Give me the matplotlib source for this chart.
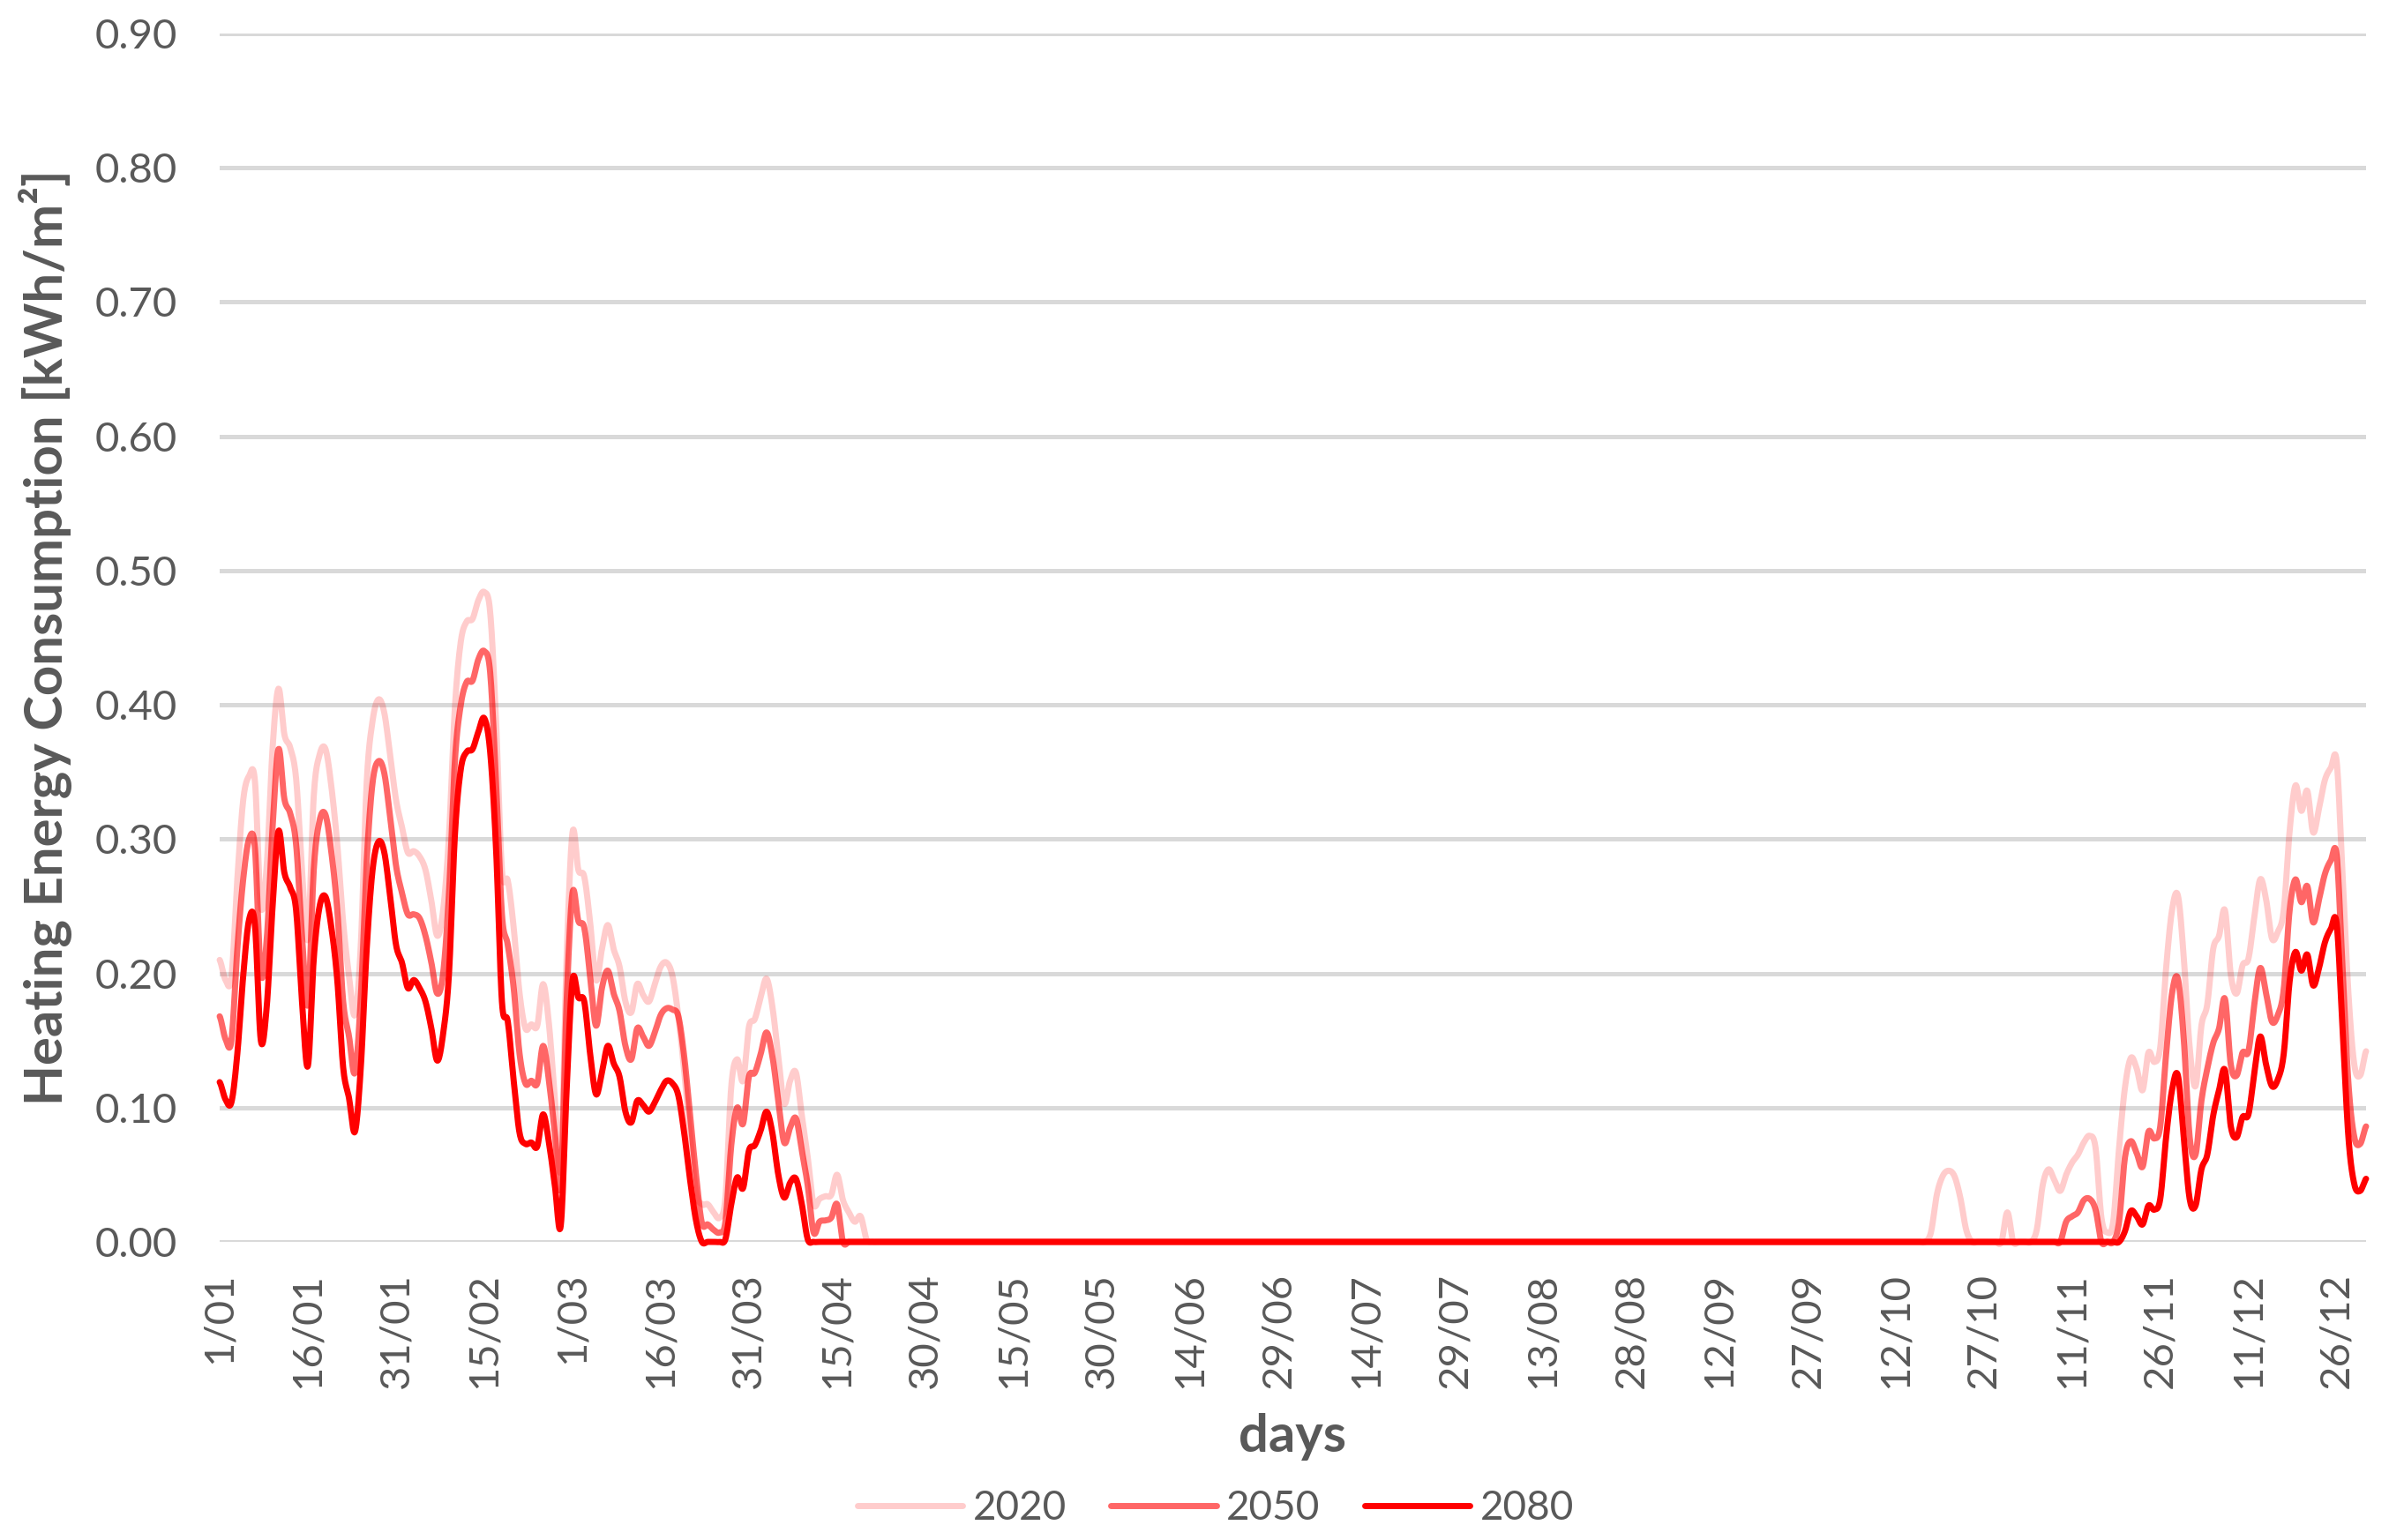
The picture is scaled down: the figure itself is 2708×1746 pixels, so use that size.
import numpy as np
import pandas as pd
import matplotlib
matplotlib.use('Agg')
import matplotlib.pyplot as plt

# daily heating energy consumption [kWh/m2] for three climate years
# calendar is a leap year (366 days); outside the two segments the values are 0
days = pd.date_range('2020-01-01', '2020-12-31', freq='D')
series_names = ['2020', '2050', '2080']

# 1/01 - 21/04
spring_start = '2020-01-01'
spring_2020 = [0.210, 0.195, 0.197, 0.270, 0.329, 0.347, 0.343, 0.250, 0.280, 0.368,
               0.412, 0.378, 0.368, 0.345, 0.277, 0.226, 0.332, 0.363, 0.367, 0.339,
               0.296, 0.238, 0.198, 0.169, 0.221, 0.342, 0.388, 0.404, 0.394, 0.362,
               0.329, 0.309, 0.290, 0.291, 0.287, 0.277, 0.254, 0.228, 0.247, 0.303,
               0.398, 0.447, 0.462, 0.464, 0.478, 0.484, 0.469, 0.388, 0.277, 0.269,
               0.234, 0.185, 0.159, 0.162, 0.161, 0.192, 0.162, 0.107, 0.055, 0.211,
               0.305, 0.277, 0.272, 0.238, 0.195, 0.218, 0.236, 0.218, 0.205, 0.179,
               0.171, 0.192, 0.184, 0.179, 0.192, 0.205, 0.208, 0.198, 0.168, 0.127,
               0.079, 0.037, 0.028, 0.028, 0.022, 0.018, 0.033, 0.116, 0.136, 0.120,
               0.160, 0.166, 0.182, 0.196, 0.175, 0.138, 0.103, 0.120, 0.126, 0.094,
               0.063, 0.028, 0.032, 0.034, 0.035, 0.050, 0.031, 0.022, 0.015, 0.019,
               0.002, 0.000]
spring_2050 = [0.168, 0.151, 0.150, 0.218, 0.270, 0.300, 0.293, 0.200, 0.225, 0.309,
               0.367, 0.330, 0.319, 0.296, 0.228, 0.177, 0.277, 0.314, 0.318, 0.290,
               0.247, 0.179, 0.153, 0.126, 0.182, 0.283, 0.342, 0.358, 0.349, 0.316,
               0.280, 0.260, 0.244, 0.244, 0.241, 0.228, 0.208, 0.185, 0.200, 0.260,
               0.358, 0.400, 0.417, 0.418, 0.434, 0.440, 0.424, 0.342, 0.244, 0.221,
               0.189, 0.140, 0.118, 0.120, 0.118, 0.146, 0.120, 0.081, 0.042, 0.179,
               0.260, 0.239, 0.234, 0.198, 0.161, 0.189, 0.202, 0.185, 0.172, 0.146,
               0.136, 0.159, 0.153, 0.146, 0.156, 0.169, 0.174, 0.173, 0.168, 0.138,
               0.094, 0.050, 0.014, 0.013, 0.009, 0.007, 0.015, 0.072, 0.100, 0.088,
               0.123, 0.126, 0.140, 0.156, 0.138, 0.105, 0.074, 0.085, 0.092, 0.068,
               0.042, 0.007, 0.015, 0.016, 0.018, 0.028, 0.000, 0.000, 0.000, 0.000,
               0.000, 0.000]
spring_2080 = [0.119, 0.106, 0.104, 0.140, 0.198, 0.240, 0.236, 0.150, 0.175, 0.250,
               0.306, 0.275, 0.264, 0.247, 0.179, 0.131, 0.211, 0.250, 0.257, 0.234,
               0.195, 0.130, 0.107, 0.082, 0.130, 0.218, 0.277, 0.298, 0.290, 0.257,
               0.221, 0.208, 0.189, 0.195, 0.189, 0.179, 0.159, 0.135, 0.155, 0.200,
               0.303, 0.352, 0.365, 0.367, 0.380, 0.390, 0.365, 0.293, 0.179, 0.164,
               0.120, 0.081, 0.073, 0.074, 0.071, 0.095, 0.074, 0.042, 0.012, 0.113,
               0.195, 0.182, 0.179, 0.140, 0.110, 0.126, 0.146, 0.133, 0.123, 0.097,
               0.089, 0.105, 0.102, 0.097, 0.104, 0.113, 0.120, 0.118, 0.109, 0.081,
               0.046, 0.016, 0.000, 0.000, 0.000, 0.000, 0.002, 0.028, 0.048, 0.040,
               0.068, 0.072, 0.083, 0.097, 0.081, 0.050, 0.033, 0.044, 0.047, 0.028,
               0.002, 0.000, 0.000, 0.000, 0.000, 0.000, 0.000, 0.000, 0.000, 0.000,
               0.000, 0.000]

# 12/10 - 31/12
autumn_start = '2020-10-12'
autumn_2020 = [0.000, 0.000, 0.000, 0.000, 0.000, 0.000, 0.007, 0.035, 0.049, 0.053,
               0.049, 0.033, 0.009, 0.000, 0.000, 0.000, 0.000, 0.000, 0.000, 0.022,
               0.000, 0.000, 0.000, 0.000, 0.009, 0.042, 0.054, 0.046, 0.038, 0.050,
               0.059, 0.065, 0.074, 0.079, 0.070, 0.018, 0.007, 0.015, 0.070, 0.115,
               0.137, 0.129, 0.113, 0.141, 0.134, 0.145, 0.204, 0.247, 0.258, 0.212,
               0.145, 0.116, 0.161, 0.177, 0.218, 0.228, 0.247, 0.199, 0.185, 0.206,
               0.211, 0.242, 0.270, 0.255, 0.226, 0.231, 0.247, 0.306, 0.340, 0.321,
               0.336, 0.305, 0.323, 0.344, 0.353, 0.358, 0.274, 0.185, 0.132, 0.124,
               0.142]
autumn_2050 = [0.000, 0.000, 0.000, 0.000, 0.000, 0.000, 0.000, 0.000, 0.000, 0.000,
               0.000, 0.000, 0.000, 0.000, 0.000, 0.000, 0.000, 0.000, 0.000, 0.000,
               0.000, 0.000, 0.000, 0.000, 0.000, 0.000, 0.000, 0.000, 0.000, 0.015,
               0.019, 0.022, 0.031, 0.032, 0.024, 0.000, 0.000, 0.000, 0.015, 0.063,
               0.075, 0.066, 0.056, 0.082, 0.077, 0.086, 0.140, 0.185, 0.196, 0.151,
               0.078, 0.065, 0.105, 0.129, 0.148, 0.159, 0.181, 0.132, 0.124, 0.141,
               0.142, 0.177, 0.204, 0.185, 0.164, 0.169, 0.188, 0.247, 0.270, 0.253,
               0.265, 0.238, 0.255, 0.274, 0.284, 0.288, 0.204, 0.118, 0.078, 0.073,
               0.086]
autumn_2080 = [0.000, 0.000, 0.000, 0.000, 0.000, 0.000, 0.000, 0.000, 0.000, 0.000,
               0.000, 0.000, 0.000, 0.000, 0.000, 0.000, 0.000, 0.000, 0.000, 0.000,
               0.000, 0.000, 0.000, 0.000, 0.000, 0.000, 0.000, 0.000, 0.000, 0.000,
               0.000, 0.000, 0.000, 0.000, 0.000, 0.000, 0.000, 0.000, 0.000, 0.008,
               0.023, 0.019, 0.013, 0.027, 0.024, 0.032, 0.078, 0.113, 0.124, 0.078,
               0.032, 0.027, 0.054, 0.065, 0.094, 0.113, 0.128, 0.086, 0.078, 0.093,
               0.095, 0.126, 0.153, 0.132, 0.116, 0.121, 0.140, 0.194, 0.216, 0.202,
               0.214, 0.191, 0.204, 0.223, 0.233, 0.237, 0.159, 0.078, 0.043, 0.038,
               0.047]

spring = {'2020': spring_2020, '2050': spring_2050, '2080': spring_2080}
autumn = {'2020': autumn_2020, '2050': autumn_2050, '2080': autumn_2080}


def full_year(name):
    s1 = pd.Series(spring[name], index=pd.date_range(spring_start, periods=len(spring[name])))
    s2 = pd.Series(autumn[name], index=pd.date_range(autumn_start, periods=len(autumn[name])))
    return pd.concat([s1, s2]).reindex(days).fillna(0.0).values


def smooth(y, n=12):
    # catmull-rom curve through the daily points (like Excel "smoothed line")
    y = np.asarray(y, float)
    p = np.concatenate([[y[0]], y, [y[-1]]])
    t = np.linspace(0, 1, n, endpoint=False)[None, :]
    p0, p1, p2, p3 = p[:-3, None], p[1:-2, None], p[2:-1, None], p[3:, None]
    seg = 0.5 * (2 * p1 + (p2 - p0) * t + (2 * p0 - 5 * p1 + 4 * p2 - p3) * t ** 2
                 + (3 * p1 - p0 - 3 * p2 + p3) * t ** 3)
    xs = np.arange(len(y) - 1)[:, None] + t
    return np.append(xs.ravel(), len(y) - 1), np.append(seg.ravel(), y[-1])


plt.rcParams['font.family'] = ['Lato', 'DejaVu Sans']
grey = '#595959'

fig = plt.figure(figsize=(27.08, 17.46), dpi=100)
ax = fig.add_axes([249 / 2708, 1 - 1408 / 1746, (2682 - 249) / 2708, (1408 - 38) / 1746])

alphas = {'2020': 0.2, '2050': 0.6, '2080': 1.0}
for name in series_names:
    xs, ys = smooth(full_year(name))
    ax.plot(xs, ys, color='#FF0000', alpha=alphas[name], lw=5.0, label=name,
            clip_on=False, solid_capstyle='round', solid_joinstyle='round')

ax.set_xlim(0, len(days) - 1)
ax.set_ylim(0, 0.9)
ax.set_yticks(np.arange(0, 0.91, 0.1))
ax.set_yticklabels([f'{v:.2f}' for v in np.arange(0, 0.91, 0.1)])
tick_pos = np.arange(0, len(days), 15)
ax.set_xticks(tick_pos)
ax.set_xticklabels([f'{days[i].day}/{days[i].month:02d}' for i in tick_pos], rotation=90)

ax.grid(axis='y', color='#D9D9D9', lw=3.6)
ax.set_axisbelow(True)
for sp in ax.spines.values():
    sp.set_visible(False)
ax.tick_params(axis='both', length=0, labelsize=34, labelcolor=grey)
ax.tick_params(axis='y', pad=34.5)
ax.tick_params(axis='x', pad=25)

fig.text(52 / 2708, 1 - 723 / 1746, 'Heating Energy Consumption [kWh/m²]', rotation=90,
         ha='center', va='center', fontsize=43, fontweight='bold', color=grey)
fig.text(1465 / 2708, 1 - 1629 / 1746, 'days', ha='center', va='center',
         fontsize=43, fontweight='bold', color=grey)

leg = fig.legend(loc='center', bbox_to_anchor=(1378 / 2708, 1 - 1710 / 1746), ncol=3,
                 frameon=False, fontsize=33, handlelength=2.6, handletextpad=0.25,
                 columnspacing=1.1, labelcolor=grey)

fig.savefig('out.png', dpi=100)
